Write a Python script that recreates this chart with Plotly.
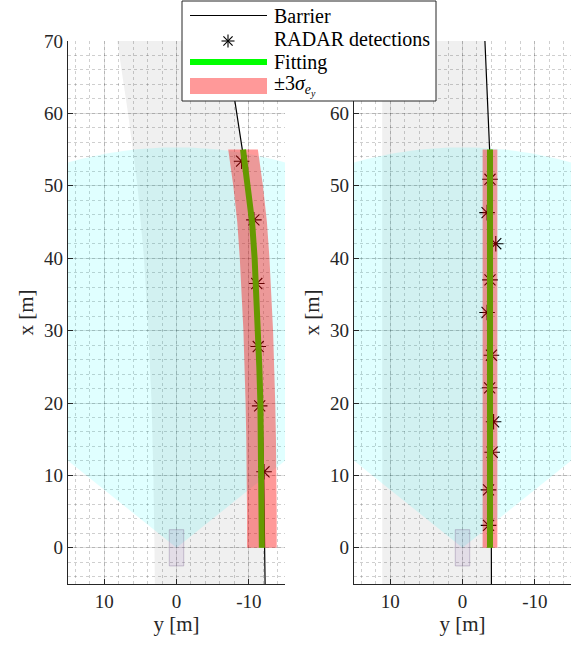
import numpy as np
import plotly.graph_objects as go

# ---------------- data ----------------
# Left scenario (curved barrier)
L_barrier_x = [-5, 0, 10, 20, 30, 40, 50, 55, 60, 65, 70]
L_barrier_y = [-12.25, -12.2, -12.05, -11.8, -11.35, -10.7, -9.75, -9.1, -8.35, -7.6, -6.8]
L_road_x = [-5, 0, 10, 20, 30, 40, 50, 60, 70]
L_road_left_y = [3.0, 3.05, 3.2, 3.45, 3.9, 4.5, 5.4, 6.7, 8.2]
L_det_x = [53.4, 45.3, 36.5, 27.8, 19.6, 10.5]
L_det_y = [-9.0, -10.7, -11.1, -11.3, -11.5, -12.1]
L_fit_x = [0, 5, 10, 15, 20, 25, 30, 35, 40, 45, 50, 55]
L_fit_y = [-11.8, -11.8, -11.75, -11.7, -11.6, -11.45, -11.3, -11.05, -10.8, -10.45, -9.9, -9.2]
L_3sigma = 2.05

# Right scenario (straight barrier)
R_barrier_x = [-5, 0, 20, 40, 55, 62, 70]
R_barrier_y = [-4.0, -4.0, -4.0, -3.9, -3.75, -3.45, -3.1]
R_road_x = [-5, 70]
R_road_left_y = [11.1, 11.1]
R_det_x = [50.9, 46.3, 42.0, 37.0, 32.5, 26.6, 22.1, 17.4, 13.2, 8.0, 3.1]
R_det_y = [-3.8, -3.4, -4.6, -3.8, -3.4, -4.0, -3.75, -4.3, -4.1, -3.6, -3.6]
R_fit_x = [0, 55]
R_fit_y = [-3.8, -3.8]
R_3sigma = 1.02

# Sensor field of view and ego vehicle
fov_range = 55.3
fov_half_angle_deg = 51.3
car_len = [-2.5, 2.5]
car_wid = [-1.0, 1.0]

y_ticks = [10, 0, -10]
y_tick_text = ["10", "0", "-10"]
x_ticks = [0, 10, 20, 30, 40, 50, 60, 70]
x_tick_text_left = [str(v) for v in x_ticks]
x_tick_text_right = [str(v) for v in x_ticks[:-1]] + [""]   # "70" is hidden by the legend
legend_labels = ["Barrier", "RADAR detections", "Fitting",
                 "±3<i>σ</i><sub><i>e</i><sub><i>y</i></sub></sub>"]

# ---------------- styling ----------------
FONT = "Liberation Serif"
AX = "#262626"
GRAY_FILL = "rgba(0,0,0,0.06)"
CYAN_FILL = "rgba(0,255,255,0.12)"
RED_FILL = "rgba(255,0,0,0.4)"
GREEN = "rgb(0,255,0)"

W, H = 576, 645
ML, MR, MT, MB = 68, 5, 41, 61
PW, PH = W - ML - MR, H - MT - MB


def pxp(px):
    return (px - ML) / PW


def pyp(py):
    return 1 - (py - MT) / PH


fig = go.Figure()


def add_panel(xa, ya, road_x, road_left, bar_x, bar_y, det_x, det_y, fit_x, fit_y, s3):
    ax = dict(xaxis=xa, yaxis=ya)
    # road (gray) between left boundary and barrier
    fig.add_trace(go.Scatter(x=list(road_left) + list(bar_y)[::-1],
                             y=list(road_x) + list(bar_x)[::-1],
                             fill="toself", fillcolor=GRAY_FILL, mode="none",
                             hoverinfo="skip", showlegend=False, **ax))
    # FOV
    th = np.radians(np.linspace(-fov_half_angle_deg, fov_half_angle_deg, 121))
    fx = [0] + list(fov_range * np.cos(th)) + [0]
    fy = [0] + list(fov_range * np.sin(th)) + [0]
    fig.add_trace(go.Scatter(x=fy, y=fx, fill="toself", fillcolor=CYAN_FILL, mode="none",
                             hoverinfo="skip", showlegend=False, **ax))
    # car
    fig.add_trace(go.Scatter(x=[car_wid[0], car_wid[1], car_wid[1], car_wid[0], car_wid[0]],
                             y=[car_len[0], car_len[0], car_len[1], car_len[1], car_len[0]],
                             fill="toself", fillcolor="rgba(140,90,170,0.13)", mode="lines",
                             line=dict(color="rgba(120,100,140,0.35)", width=1),
                             hoverinfo="skip", showlegend=False, **ax))
    # barrier
    fig.add_trace(go.Scatter(x=bar_y, y=bar_x, mode="lines", line=dict(color="black", width=1.2),
                             showlegend=False, **ax))
    # detections
    fig.add_trace(go.Scatter(x=det_y, y=det_x, mode="markers",
                             marker=dict(symbol="asterisk-open", size=13, color="black",
                                         line=dict(color="black", width=1.1)),
                             showlegend=False, **ax))
    # fitting
    fig.add_trace(go.Scatter(x=fit_y, y=fit_x, mode="lines", line=dict(color=GREEN, width=6),
                             showlegend=False, **ax))
    # +-3 sigma band
    lo = [v - s3 for v in fit_y]
    hi = [v + s3 for v in fit_y]
    fig.add_trace(go.Scatter(x=lo + hi[::-1], y=list(fit_x) + list(fit_x)[::-1],
                             fill="toself", fillcolor=RED_FILL, mode="none",
                             hoverinfo="skip", showlegend=False, **ax))


add_panel("x", "y", L_road_x, L_road_left_y, L_barrier_x, L_barrier_y,
          L_det_x, L_det_y, L_fit_x, L_fit_y, L_3sigma)
add_panel("x2", "y2", R_road_x, R_road_left_y, R_barrier_x, R_barrier_y,
          R_det_x, R_det_y, R_fit_x, R_fit_y, R_3sigma)

minor = dict(tickmode="linear", tick0=0, dtick=2, showgrid=True,
             gridcolor="rgba(38,38,38,0.22)", griddash="dot", gridwidth=1, ticks="")
common = dict(showgrid=True, gridcolor="rgba(38,38,38,0.15)", gridwidth=1, zeroline=False,
              showline=True, linecolor=AX, linewidth=1.3, mirror=False,
              ticks="inside", ticklen=5, tickcolor=AX, tickwidth=1,
              tickfont=dict(family=FONT, size=19, color=AX), minor=minor, fixedrange=True)
common_x = dict(range=[15, -15], tickmode="array", tickvals=y_ticks, ticktext=y_tick_text,
                title=dict(text="y [m]", font=dict(family=FONT, size=21, color=AX), standoff=4),
                **common)


def common_y(tt):
    return dict(range=[-5, 70], tickmode="array", tickvals=x_ticks, ticktext=tt,
                title=dict(text="x [m]", font=dict(family=FONT, size=21, color=AX), standoff=4),
                **common)


fig.update_layout(
    width=W, height=H, autosize=False,
    margin=dict(l=ML, r=MR, t=MT, b=MB, pad=0),
    paper_bgcolor="white", plot_bgcolor="white",
    showlegend=False,
    xaxis=dict(domain=[0, 217 / PW], anchor="y", **common_x),
    yaxis=dict(domain=[0, 1], anchor="x", **common_y(x_tick_text_left)),
    xaxis2=dict(domain=[286 / PW, 1], anchor="y2", **common_x),
    yaxis2=dict(domain=[0, 1], anchor="x2", **common_y(x_tick_text_right)),
)

# ---------------- legend (drawn manually) ----------------
shapes = []
shapes.append(dict(type="rect", xref="paper", yref="paper", x0=pxp(182), x1=pxp(436),
                   y0=pyp(101), y1=pyp(1), line=dict(color=AX, width=1),
                   fillcolor="white", layer="above"))
shapes.append(dict(type="line", xref="paper", yref="paper", x0=pxp(190), x1=pxp(267),
                   y0=pyp(15.5), y1=pyp(15.5), line=dict(color="black", width=1.2), layer="above"))
cx, cy, r = 228, 41, 6.5
for dx, dy in [(0, 1), (1, 0), (0.707, 0.707), (0.707, -0.707)]:
    shapes.append(dict(type="line", xref="paper", yref="paper",
                       x0=pxp(cx - r * dx), x1=pxp(cx + r * dx),
                       y0=pyp(cy - r * dy), y1=pyp(cy + r * dy),
                       line=dict(color="black", width=1.1), layer="above"))
shapes.append(dict(type="line", xref="paper", yref="paper", x0=pxp(190), x1=pxp(267),
                   y0=pyp(62), y1=pyp(62), line=dict(color=GREEN, width=6), layer="above"))
shapes.append(dict(type="rect", xref="paper", yref="paper", x0=pxp(190), x1=pxp(267),
                   y0=pyp(94), y1=pyp(78), line=dict(width=0),
                   fillcolor=RED_FILL, layer="above"))
fig.update_layout(shapes=shapes)

rows = [16, 39, 62, 85]
for lab, ry in zip(legend_labels, rows):
    fig.add_annotation(xref="paper", yref="paper", x=pxp(272), y=pyp(ry), text=lab,
                       showarrow=False, xanchor="left", yanchor="middle",
                       font=dict(family=FONT, size=20, color="black"))

fig.write_html("out.html")
